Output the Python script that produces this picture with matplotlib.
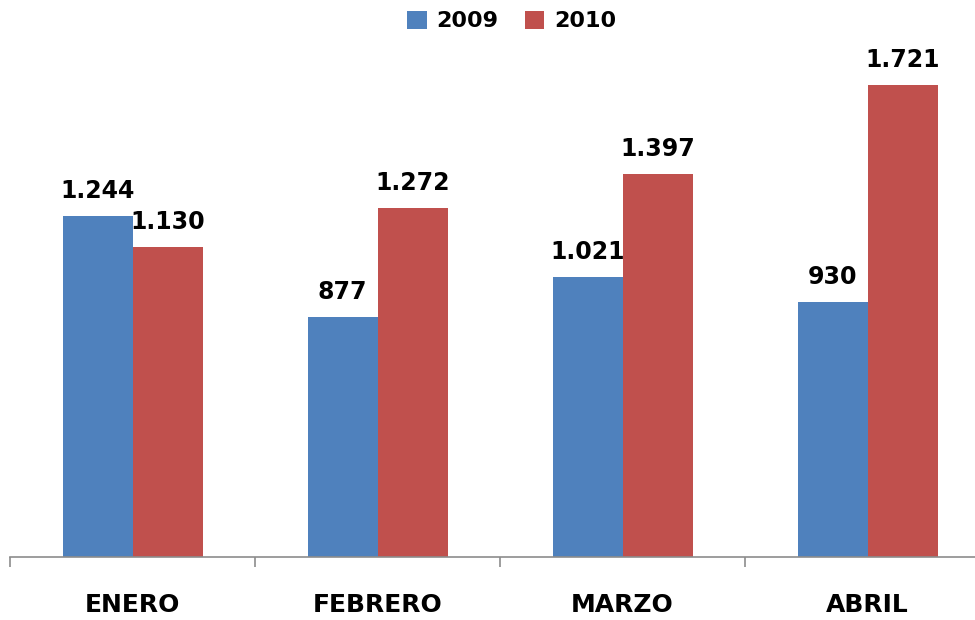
import numpy as np
import matplotlib.pyplot as plt
from matplotlib.patches import Patch

# ==========================================
# Data
# ==========================================
meses = ["ENERO", "FEBRERO", "MARZO", "ABRIL"]
v2009 = [1244, 877, 1021, 930]
v2010 = [1130, 1272, 1397, 1721]
series = ["2009", "2010"]
colores = ["#4F81BD", "#C0504D"]

def fmt(v):
    return f"{v:,}".replace(",", ".")

# ==========================================
# Figure
# ==========================================
W, H = 975, 620
fig = plt.figure(figsize=(W / 100, H / 100), dpi=100)
# axes: x from 10px to 990px, y from 557px (base) to 9px (top)
ax = fig.add_axes([10 / W, 1 - 557 / H, 980 / W, 548 / H])

x = np.arange(len(meses))
w = 70 / 245

b1 = ax.bar(x - w / 2, v2009, width=w, color=colores[0], edgecolor="none")
b2 = ax.bar(x + w / 2, v2010, width=w, color=colores[1], edgecolor="none")

for bars, vals in [(b1, v2009), (b2, v2010)]:
    for r, v in zip(bars, vals):
        ax.annotate(fmt(v), (r.get_x() + r.get_width() / 2, r.get_height()),
                    xytext=(0, 13), textcoords="offset points",
                    ha="center", va="baseline", fontsize=17, fontweight="bold")

ax.set_xlim(-0.5, len(meses) - 0.5)
ax.set_ylim(0, 2000)

for s in ["top", "right", "left"]:
    ax.spines[s].set_visible(False)
ax.spines["bottom"].set_color("#8C8C8C")
ax.spines["bottom"].set_linewidth(1.2)
ax.set_yticks([])

ax.set_xticks(x)
ax.set_xticklabels(meses, fontsize=18, fontweight="bold")
ax.tick_params(axis="x", which="major", length=0, pad=26)
ax.set_xticks(np.arange(len(meses) + 1) - 0.5, minor=True)
ax.tick_params(axis="x", which="minor", length=7, width=1.2, color="#8C8C8C")

handles = [Patch(facecolor=c, edgecolor="none") for c in colores]
fig.legend(handles, series, loc="center", bbox_to_anchor=(512 / W, 1 - 21 / H),
           ncol=2, frameon=False, handlelength=0.86, handleheight=0.86,
           handletextpad=0.45, columnspacing=1.2,
           prop={"weight": "bold", "size": 16})

fig.savefig("out.png", dpi=100)
